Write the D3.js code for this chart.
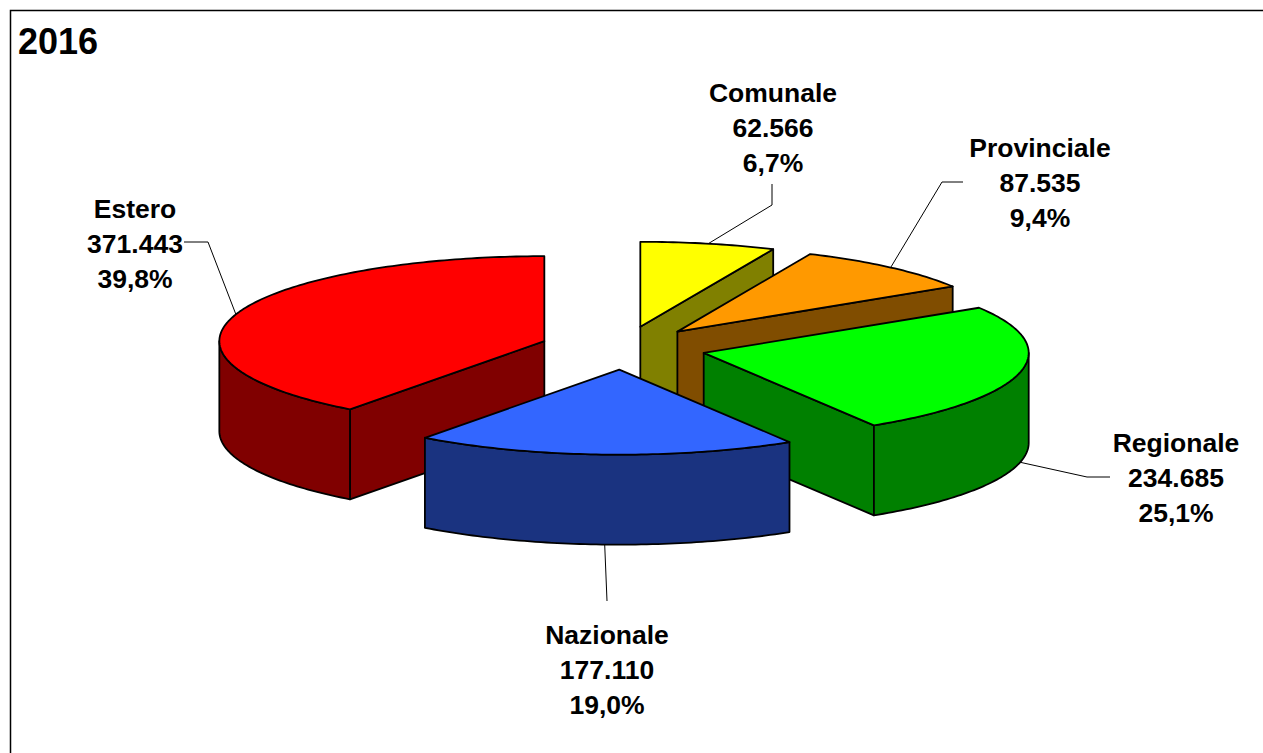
<!DOCTYPE html>
<html>
<head>
<meta charset="utf-8">
<script src="https://cdn.jsdelivr.net/npm/d3@7"></script>
<style>
  body { margin: 0; background: #fff; }
  svg { display: block; }
  text { font-family: "Liberation Sans", Arial, sans-serif; font-weight: bold; fill: #000; }
</style>
</head>
<body>
<script>
// ---- data ----
const title = "2016";
const categories = ["Comunale", "Provinciale", "Regionale", "Nazionale", "Estero"];
const values = [62566, 87535, 234685, 177110, 371443];
const topColors = ["#FFFF00", "#FF9900", "#00FF00", "#3366FF", "#FF0000"];
const sideColors = ["#808000", "#804D00", "#008000", "#1A3380", "#800000"];

// ---- layout ----
const W = 1263, H = 753;
const center = { x: 623, y: 348 };   // pie centre before explosion
const rx = 325, ry = 85;             // projected radii of the tilted disc
const depth = 90;                    // slice thickness in pixels
const explode = 0.255;               // radial offset of each slice (fraction of radius)
const lineGap = 35;                  // label line spacing

// label block: text centre x, first baseline y, leader elbow and end points
const labelLayout = {
  Comunale:    { x: 773,  y: 102, elbow: [772, 205], end: [772, 184] },
  Provinciale: { x: 1040, y: 157, elbow: [942, 182], end: [963, 182] },
  Regionale:   { x: 1176, y: 452, elbow: [1087, 477], end: [1110, 477] },
  Nazionale:   { x: 607,  y: 644, elbow: null, end: [607, 601] },
  Estero:      { x: 135,  y: 218, elbow: [208, 242], end: [184, 242] }
};

const locale = d3.formatLocale({ decimal: ",", thousands: ".", grouping: [3], currency: ["€", ""] });
const fmtValue = locale.format(",d");
const fmtPct = locale.format(".1f");

const svg = d3.select("body").append("svg").attr("width", W).attr("height", H);

// chart frame
svg.append("rect")
  .attr("x", 10.5).attr("y", 10.5)
  .attr("width", W + 20).attr("height", H + 20)
  .attr("fill", "#fff").attr("stroke", "#000").attr("stroke-width", 1.5);

svg.append("text").attr("x", 18).attr("y", 54)
  .attr("font-size", 36).text(title);

const total = d3.sum(values);
const arcs = d3.pie().sort(null).startAngle(0).endAngle(2 * Math.PI)(values);

// projection of the tilted disc: angle measured clockwise from 12 o'clock
const sx = d3.scaleLinear().domain([-1, 1]).range([-rx, rx]);
const sy = d3.scaleLinear().domain([-1, 1]).range([ry, -ry]);
const proj = (c, a, z = 0) => [c.x + sx(Math.sin(a)), c.y + sy(Math.cos(a)) + z];

const line = d3.line();
const sample = (a0, a1) => {
  const n = Math.max(2, Math.ceil(Math.abs(a1 - a0) / (Math.PI / 180)));
  return d3.range(n + 1).map(i => a0 + (a1 - a0) * i / n);
};

const slices = arcs.map((d, i) => {
  const mid = (d.startAngle + d.endAngle) / 2;
  const c = {
    x: center.x + sx(Math.sin(mid)) * explode,
    y: center.y + sy(Math.cos(mid)) * explode
  };
  return { d, i, mid, c, name: categories[i] };
});

// paint from back to front
const order = slices.slice().sort((a, b) => a.c.y - b.c.y);

const g = svg.append("g")
  .attr("stroke", "#000").attr("stroke-width", 1.8).attr("stroke-linejoin", "round");

order.forEach(s => {
  const { d, c, i } = s;
  const a0 = d.startAngle, a1 = d.endAngle;
  const sg = g.append("g");

  // radial walls facing the viewer
  const wall = a => {
    const p = proj(c, a);
    return line([[c.x, c.y], p, [p[0], p[1] + depth], [c.x, c.y + depth]]) + "Z";
  };
  if (Math.sin(a0) < -1e-6) sg.append("path").attr("d", wall(a0)).attr("fill", sideColors[i]);
  if (Math.sin(a1) > 1e-6) sg.append("path").attr("d", wall(a1)).attr("fill", sideColors[i]);

  // outer curved wall (front half only)
  const f0 = Math.max(a0, Math.PI / 2), f1 = Math.min(a1, 3 * Math.PI / 2);
  if (f1 > f0) {
    const topPts = sample(f0, f1).map(a => proj(c, a));
    const botPts = topPts.map(p => [p[0], p[1] + depth]).reverse();
    sg.append("path").attr("d", line(topPts.concat(botPts)) + "Z").attr("fill", sideColors[i]);
  }

  // top face
  const pts = [[c.x, c.y]].concat(sample(a0, a1).map(a => proj(c, a)));
  sg.append("path").attr("d", line(pts) + "Z").attr("fill", topColors[i]);
});

// labels with leader lines
const lg = svg.append("g");
slices.forEach(s => {
  const L = labelLayout[s.name];
  const p = proj(s.c, s.mid, Math.cos(s.mid) < 0 ? depth : 0);
  const pts = [p];
  if (L.elbow) pts.push(L.elbow);
  pts.push(L.end);
  lg.append("path").attr("d", line(pts))
    .attr("fill", "none").attr("stroke", "#000").attr("stroke-width", 1);

  const v = values[s.i];
  const lines = [s.name, fmtValue(v), fmtPct(v / total * 100) + "%"];
  const t = lg.append("text").attr("text-anchor", "middle").attr("font-size", 26.5);
  lines.forEach((txt, k) => {
    t.append("tspan").attr("x", L.x).attr("y", L.y + k * lineGap).text(txt);
  });
});
</script>
</body>
</html>
